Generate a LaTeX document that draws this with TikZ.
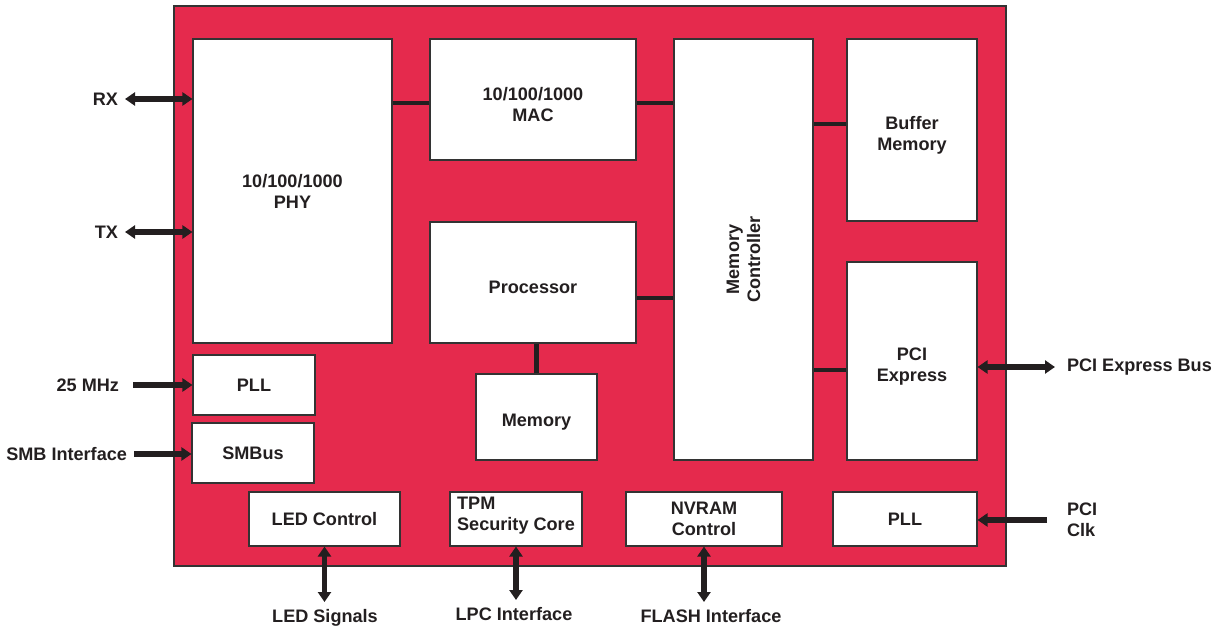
\documentclass[tikz,border=0pt]{standalone}
\usepackage{fontspec}
\setmainfont{Liberation Sans}
\usetikzlibrary{arrows.meta,positioning,calc}
\definecolor{chipred}{HTML}{E52A4D}
\definecolor{blkgray}{HTML}{333333}
\definecolor{wireblk}{HTML}{231F20}

\begin{document}
\begin{tikzpicture}[font=\fontsize{10.3}{12}\selectfont\bfseries, >={Triangle[length=0.2cm,width=0.26cm]}]
  \tikzstyle{blk}=[draw=blkgray,line width=0.6pt,fill=white,text=wireblk,align=center,inner sep=0pt]
  \tikzstyle{boxtxt}=[align=center,text=wireblk,inner sep=0pt,yshift=-0.1cm]
  \tikzstyle{bus}=[draw=wireblk,line width=2.6pt]
  \tikzstyle{sig}=[draw=wireblk,line width=2.9pt]
  \tikzstyle{lbl}=[inner sep=0pt,outer sep=4pt,text=wireblk,align=center]
  \useasboundingbox (0,0) rectangle (24.32,-12.56);
  \node[draw=blkgray,line width=1pt,fill=chipred,minimum width=16.64cm,minimum height=11.2cm,inner sep=0pt] (chip) at (11.80,-5.72) {};
  \node[blk,minimum width=3.98cm,minimum height=6.08cm] (phy) at (5.85,-3.82) {10/100/1000\\PHY};
  \node[blk,minimum width=4.12cm,minimum height=2.42cm,label={[boxtxt]center:{10/100/1000\\MAC}}] (mac) at (10.66,-1.99) {};
  \node[blk,minimum width=2.78cm,minimum height=8.42cm] (memctrl) at (14.87,-4.99) {};
  \node[rotate=90,align=center,inner sep=0pt,text=wireblk] (memctrltxt) at ([yshift=-0.2cm]memctrl.center) {Memory\\Controller};
  \node[blk,minimum width=2.60cm,minimum height=3.64cm,label={[boxtxt]center:{Buffer\\Memory}}] (buffer) at (18.24,-2.60) {};
  \node[blk,minimum width=4.12cm,minimum height=2.42cm,label={[boxtxt]center:Processor}] (proc) at (10.66,-5.65) {};
  \node[blk,minimum width=2.60cm,minimum height=3.96cm,label={[boxtxt,yshift=-0.02cm]center:{PCI\\Express}}] (pcie) at (18.24,-7.22) {};
  \node[blk,minimum width=2.42cm,minimum height=1.72cm,label={[boxtxt]center:Memory}] (mem) at (10.73,-8.34) {};
  \node[blk,minimum width=2.44cm,minimum height=1.20cm] (pll) at (5.08,-7.70) {PLL};
  \node[blk,minimum width=2.44cm,minimum height=1.20cm] (smbus) at (5.06,-9.06) {SMBus};
  \node[blk,minimum width=3.02cm,minimum height=1.08cm] (led) at (6.49,-10.38) {LED Control};
  \node[blk,minimum width=2.64cm,minimum height=1.08cm] (tpm) at (10.32,-10.38) {};
  \node[align=left,inner sep=0pt,text=wireblk] (tpmtxt) at ([yshift=0.07cm]tpm.center) {TPM\\Security Core};
  \node[blk,minimum width=3.12cm,minimum height=1.08cm] (nvram) at (14.08,-10.38) {NVRAM\\Control};
  \node[blk,minimum width=2.88cm,minimum height=1.08cm] (pllpci) at (18.10,-10.38) {PLL};
  \draw[bus] ([yshift=-0.07cm]mac.west) -- ([yshift=-0.07cm]mac.west -| phy.east);
  \draw[bus] ([yshift=-0.07cm]mac.east) -- ([yshift=-0.07cm]mac.east -| memctrl.west);
  \draw[bus] ([yshift=0.12cm]buffer.west) -- ([yshift=0.12cm]buffer.west -| memctrl.east);
  \draw[bus] ([yshift=-0.31cm]proc.east) -- ([yshift=-0.31cm]proc.east -| memctrl.west);
  \draw[bus] ([yshift=-0.18cm]pcie.west) -- ([yshift=-0.18cm]pcie.west -| memctrl.east);
  \draw[bus] (mem.north) -- (mem.north |- proc.south);
  \node[lbl,anchor=east] (rx) at (2.50,-1.98) {RX};
  \node[lbl,anchor=east] (tx) at (2.50,-4.64) {TX};
  \node[lbl,anchor=east] (mhz) at (2.52,-7.70) {25 MHz};
  \node[lbl,anchor=east] (smb) at (2.68,-9.08) {SMB Interface};
  \node[lbl,anchor=west] (pcibus) at (21.20,-7.34) {PCI Express Bus};
  \node[lbl,anchor=west,align=left] (pciclk) at (21.20,-10.40) {PCI\\Clk};
  \node[lbl,anchor=north] (ledsig) at (6.50,-12.04) {LED Signals};
  \node[lbl,anchor=north] (lpc) at (10.28,-12.00) {LPC Interface};
  \node[lbl,anchor=north] (flash) at (14.22,-12.04) {FLASH Interface};
  \draw[sig,<->] (rx.east) -- (rx.east -| phy.west);
  \draw[sig,<->] (tx.east) -- (tx.east -| phy.west);
  \draw[sig,->,shorten <=0.14cm] (mhz.east) -- (mhz.east -| pll.west);
  \draw[sig,->] (smb.east) -- (smb.east -| smbus.west);
  \draw[sig,<->,shorten >=0.1cm] (pcibus.west -| pcie.east) -- (pcibus.west);
  \draw[sig,->,shorten <=0.26cm] (pciclk.west) -- (pciclk.west -| pllpci.east);
  \draw[sig,<->] (led.south) -- (led.south |- ledsig.north);
  \draw[sig,<->] (tpm.south) -- (tpm.south |- lpc.north);
  \draw[sig,<->] (nvram.south) -- (nvram.south |- flash.north);
\end{tikzpicture}
\end{document}
